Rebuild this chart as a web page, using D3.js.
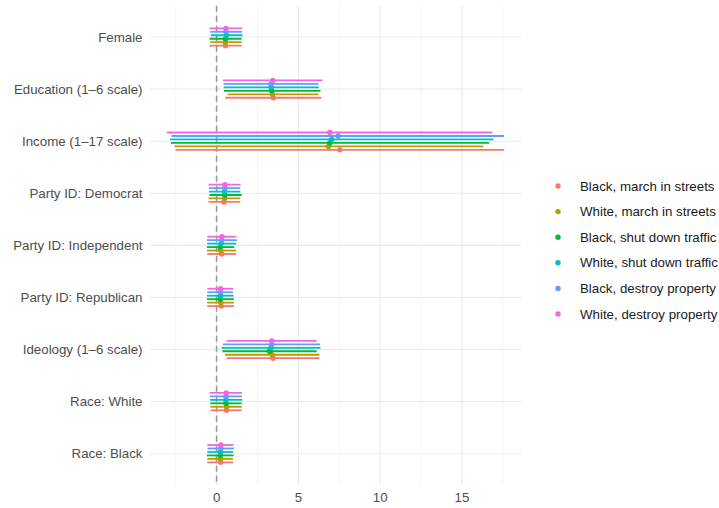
<!DOCTYPE html>
<html>
<head>
<meta charset="utf-8">
<script src="https://cdn.jsdelivr.net/npm/d3@7"></script>
<style>
  html, body { margin: 0; padding: 0; background: #fff; }
  text { font-family: "Liberation Sans", Arial, sans-serif; }
</style>
</head>
<body>
<svg id="chart" width="719" height="508"></svg>
<script>
// Covariates, top to bottom
const categories = [
  "Female", "Education (1\u20136 scale)", "Income (1\u201317 scale)",
  "Party ID: Democrat", "Party ID: Independent", "Party ID: Republican",
  "Ideology (1\u20136 scale)", "Race: White", "Race: Black"
];

// Treatment conditions (legend order)
const series = [
  "Black, march in streets", "White, march in streets",
  "Black, shut down traffic", "White, shut down traffic",
  "Black, destroy property", "White, destroy property"
];
const colors = ["#F8766D", "#B79F00", "#00BA38", "#00BFC4", "#619CFF", "#F564E3"];

// Point estimates, one array per condition, in category order
const estBlackMarch   = [0.55, 3.47, 7.53, 0.45, 0.31, 0.28, 3.45, 0.61, 0.25];
const estWhiteMarch   = [0.53, 3.41, 6.84, 0.49, 0.24, 0.26, 3.39, 0.61, 0.24];
const estBlackTraffic = [0.55, 3.37, 6.92, 0.51, 0.22, 0.22, 3.23, 0.57, 0.22];
const estWhiteTraffic = [0.60, 3.33, 7.04, 0.49, 0.27, 0.24, 3.33, 0.57, 0.24];
const estBlackDestroy = [0.57, 3.33, 7.43, 0.51, 0.31, 0.24, 3.37, 0.57, 0.26];
const estWhiteDestroy = [0.57, 3.43, 6.92, 0.51, 0.33, 0.24, 3.37, 0.59, 0.26];

// Lower interval bounds
const loBlackMarch   = [-0.43, 0.53, -2.51, -0.49, -0.57, -0.57, 0.61, -0.37, -0.57];
const loWhiteMarch   = [-0.39, 0.67, -2.57, -0.49, -0.59, -0.57, 0.51, -0.37, -0.57];
const loBlackTraffic = [-0.43, 0.45, -2.80, -0.43, -0.59, -0.59, 0.35, -0.39, -0.59];
const loWhiteTraffic = [-0.35, 0.43, -2.84, -0.47, -0.57, -0.59, 0.31, -0.41, -0.57];
const loBlackDestroy = [-0.39, 0.43, -2.76, -0.47, -0.59, -0.57, 0.39, -0.41, -0.55];
const loWhiteDestroy = [-0.43, 0.39, -3.04, -0.49, -0.57, -0.57, 0.61, -0.41, -0.57];

// Upper interval bounds
const hiBlackMarch   = [1.53, 6.41, 17.58, 1.45, 1.20, 1.06, 6.29, 1.53, 1.02];
const hiWhiteMarch   = [1.53, 6.23, 16.31, 1.45, 1.20, 1.06, 6.29, 1.55, 1.00];
const hiBlackTraffic = [1.53, 6.35, 16.66, 1.53, 1.08, 1.06, 6.12, 1.53, 1.04];
const hiWhiteTraffic = [1.59, 6.25, 16.92, 1.45, 1.20, 1.04, 6.35, 1.57, 1.02];
const hiBlackDestroy = [1.55, 6.23, 17.58, 1.45, 1.24, 1.00, 6.33, 1.55, 1.06];
const hiWhiteDestroy = [1.57, 6.47, 16.86, 1.47, 1.20, 1.02, 6.12, 1.55, 1.02];

const xTicks = [0, 5, 10, 15];
const xMinor = [-2.5, 2.5, 7.5, 12.5, 17.5];

const est = [estBlackMarch, estWhiteMarch, estBlackTraffic, estWhiteTraffic, estBlackDestroy, estWhiteDestroy];
const lo  = [loBlackMarch, loWhiteMarch, loBlackTraffic, loWhiteTraffic, loBlackDestroy, loWhiteDestroy];
const hi  = [hiBlackMarch, hiWhiteMarch, hiBlackTraffic, hiWhiteTraffic, hiBlackDestroy, hiWhiteDestroy];

const rows = [];
series.forEach((s, i) => {
  categories.forEach((c, j) => {
    rows.push({ series: s, cat: c, est: est[i][j], lo: lo[i][j], hi: hi[i][j], color: colors[i] });
  });
});

const svg = d3.select("#chart");
const panel = { left: 150, right: 521, top: 5.8, bottom: 485 };

// x scale with 5% expansion on the data range
const xmin = d3.min(rows, d => d.lo), xmax = d3.max(rows, d => d.hi);
const pad = (xmax - xmin) * 0.05;
const x = d3.scaleLinear().domain([xmin - pad, xmax + pad]).range([panel.left, panel.right]);

const y = d3.scalePoint().domain(categories).range([37, 453.7]);
const dodge = d3.scalePoint().domain(series).range([10.4, -10.4]).padding(0.5);

const color = d3.scaleOrdinal().domain(series).range(colors);

// grid
const grid = svg.append("g");
grid.selectAll("line.minor").data(xMinor).join("line")
  .attr("x1", d => x(d)).attr("x2", d => x(d))
  .attr("y1", panel.top).attr("y2", panel.bottom)
  .attr("stroke", "#EBEBEB").attr("stroke-width", 0.55);
grid.selectAll("line.majx").data(xTicks).join("line")
  .attr("x1", d => x(d)).attr("x2", d => x(d))
  .attr("y1", panel.top).attr("y2", panel.bottom)
  .attr("stroke", "#EBEBEB").attr("stroke-width", 1.1);
grid.selectAll("line.majy").data(categories).join("line")
  .attr("x1", panel.left).attr("x2", panel.right)
  .attr("y1", d => y(d)).attr("y2", d => y(d))
  .attr("stroke", "#EBEBEB").attr("stroke-width", 1.1);

// zero reference line
svg.append("line")
  .attr("x1", x(0)).attr("x2", x(0))
  .attr("y1", panel.top).attr("y2", panel.bottom)
  .attr("stroke", "#999999").attr("stroke-width", 1.6)
  .attr("stroke-dasharray", "6,4");

// intervals and estimates
const marks = svg.append("g");
marks.selectAll("line.ci").data(rows).join("line")
  .attr("x1", d => x(d.lo)).attr("x2", d => x(d.hi))
  .attr("y1", d => y(d.cat) + dodge(d.series))
  .attr("y2", d => y(d.cat) + dodge(d.series))
  .attr("stroke", d => color(d.series)).attr("stroke-width", 1.8);
marks.selectAll("circle.pt").data(rows).join("circle")
  .attr("cx", d => x(d.est))
  .attr("cy", d => y(d.cat) + dodge(d.series))
  .attr("r", 2.7)
  .attr("fill", d => color(d.series));

// y axis labels
svg.append("g").selectAll("text").data(categories).join("text")
  .attr("x", 142.5).attr("y", d => y(d)).attr("dy", "0.35em")
  .attr("text-anchor", "end").attr("font-size", 13.3).attr("fill", "#4D4D4D")
  .text(d => d);

// x axis labels
svg.append("g").selectAll("text").data(xTicks).join("text")
  .attr("x", d => x(d)).attr("y", 497).attr("dy", "0.35em")
  .attr("text-anchor", "middle").attr("font-size", 13.3).attr("fill", "#4D4D4D")
  .text(d => d);

// legend
const legend = svg.append("g");
const ly = d3.scalePoint().domain(series).range([186, 314]);
legend.selectAll("circle").data(series).join("circle")
  .attr("cx", 558).attr("cy", d => ly(d)).attr("r", 2.7)
  .attr("fill", d => color(d));
legend.selectAll("text").data(series).join("text")
  .attr("x", 580).attr("y", d => ly(d)).attr("dy", "0.35em")
  .attr("font-size", 13.3).attr("fill", "#1a1a1a")
  .text(d => d);
</script>
</body>
</html>
